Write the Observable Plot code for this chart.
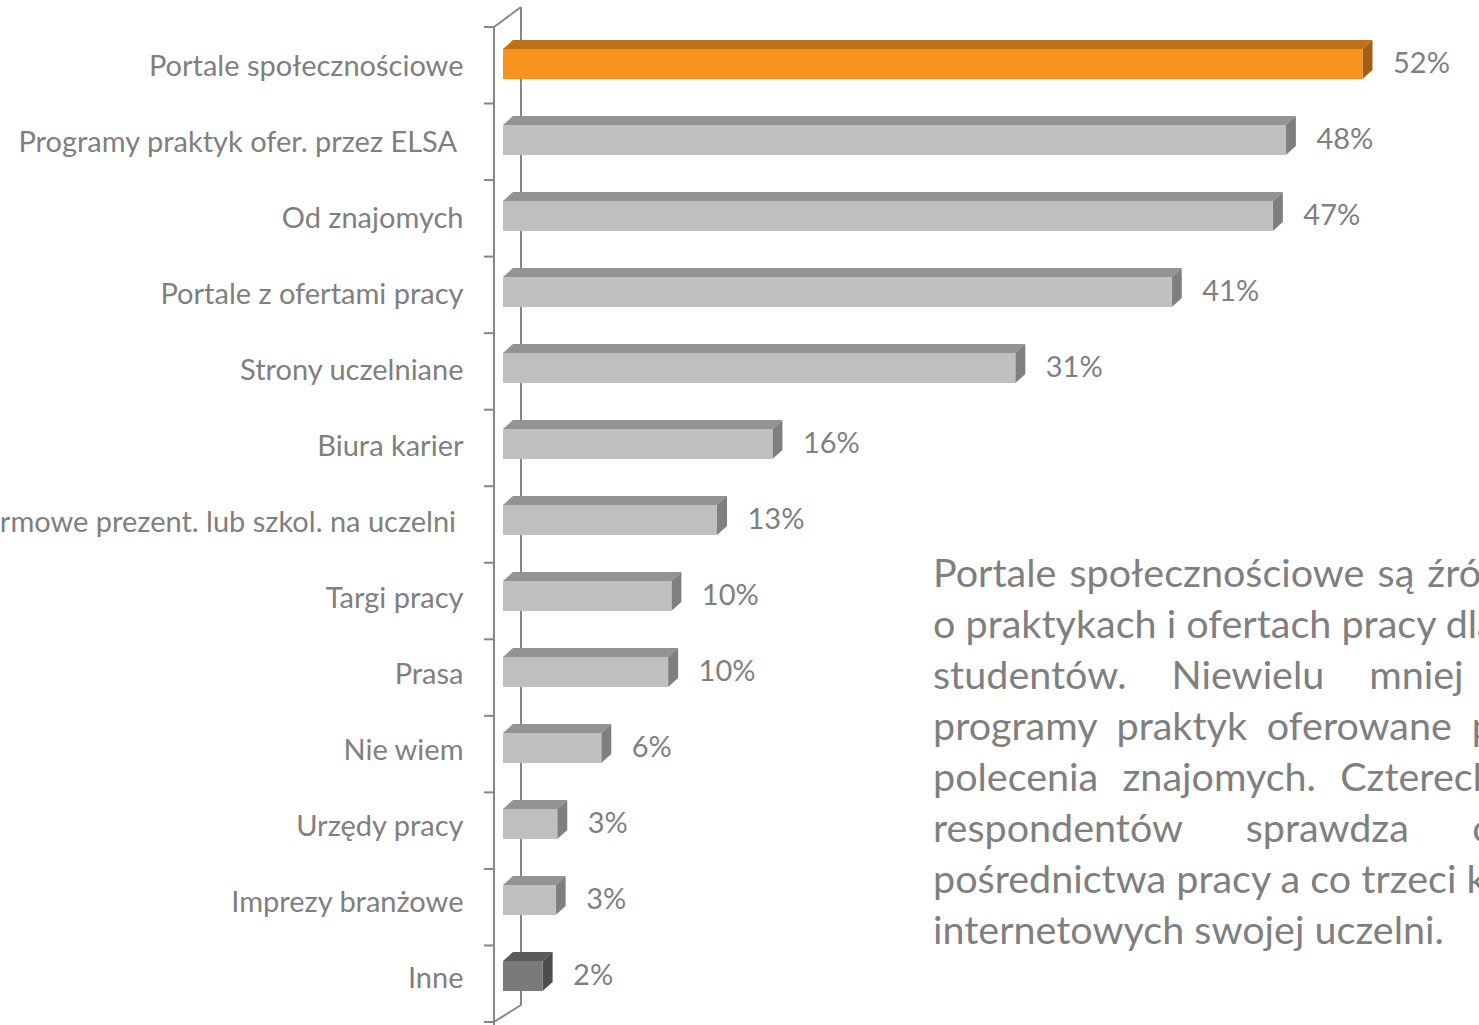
<!DOCTYPE html>
<html>
<head>
<meta charset="utf-8">
<script src="https://cdn.jsdelivr.net/npm/d3@7"></script>
<script src="https://cdn.jsdelivr.net/npm/@observablehq/plot@0.6"></script>
<style>
  html, body { margin: 0; padding: 0; background: #ffffff; overflow: hidden; width: 1479px; height: 1025px; }
  #chart { position: absolute; left: 0; top: 0; }
  #chart svg text { white-space: pre; }
  #note { position: absolute; left: 933px; top: 546px; font-family: Lato, sans-serif; font-size: 39.5px;
          line-height: 51px; color: #7f7f7f; }
  #note div { white-space: nowrap; text-align: left; }
</style>
</head>
<body>
<div id="chart"></div>
<div id="note"></div>
<script>
// ---- data ----
const categories = [
  "Portale społecznościowe",
  "Programy praktyk ofer. przez ELSA ",
  "Od znajomych",
  "Portale z ofertami pracy",
  "Strony uczelniane",
  "Biura karier",
  "Firmowe prezent. lub szkol. na uczelni ",
  "Targi pracy",
  "Prasa",
  "Nie wiem",
  "Urzędy pracy",
  "Imprezy branżowe",
  "Inne"
];
const values = [52.3, 47.6, 46.8, 40.6, 31.0, 16.1, 12.7, 9.9, 9.7, 5.6, 2.9, 2.8, 2.0];
const noteLines = [
  "Portale społecznościowe są źródłem informacji",
  "o praktykach i ofertach pracy dla ponad połowy",
  "studentów. Niewielu mniej wskazuje na",
  "programy praktyk oferowane przez ELSA czy",
  "polecenia znajomych. Czterech na dziesięciu",
  "respondentów sprawdza oferty portali",
  "pośrednictwa pracy a co trzeci korzysta ze stron",
  "internetowych swojej uczelni."
];

// ---- styles ----
const TEXT = "#7f7f7f";
const AXIS = "#868686";
const FONT = "Lato, sans-serif";
const NOTE_FONT = "39.5px Lato";
const NOTE_WIDTH = 820;        // width of the justified text box
const pal = {
  top:   {front: "#f7931e", lid: "#bd7116", side: "#a55f12"},
  other: {front: "#bfbfbf", lid: "#939393", side: "#7f7f7f"},
  last:  {front: "#7a7a7a", lid: "#5b5b5b", side: "#4d4d4d"}
};
const DX = 10, DY = 9;         // bar depth
const INSET_TOP = 18, INSET_BOTTOM = 28.5;
const BASE_SHIFT = 7;          // perspective: front face starts before zero plane

const data = categories.map((c, i) => ({category: c, value: values[i]}));
const maxV = d3.max(values);
const kind = (d, i) => d.value === maxV ? "top" : (i === data.length - 1 ? "last" : "other");

function render3d(index, scales, vals, dims) {
  const g = d3.create("svg:g");
  const n = categories.length;
  const top = dims.marginTop, bottom = dims.height - dims.marginBottom;
  const step = (bottom - top) / n;
  const x0 = scales.x(0);
  const fx = x0 - 16, bx = x0 + 11, slantY = 20;
  const line = d => g.append("path").attr("d", d).attr("stroke", AXIS)
    .attr("stroke-width", 2).attr("fill", "none");
  line(`M${bx},${top - slantY}L${bx},${bottom - 17}`);       // back wall
  line(`M${fx},${top}L${bx},${top - slantY}`);              // top slant
  line(`M${fx},${bottom}L${bx},${bottom - 17}`);            // bottom slant
  line(`M${fx},${top}L${fx},${dims.height}`);               // front axis
  for (let k = 0; k <= n; ++k) {
    const y = top + k * step;
    line(`M${fx - 10},${y}L${fx},${y}`);
  }
  for (const i of index) {
    const d = data[i];
    const c = pal[kind(d, i)];
    const xa = x0 - BASE_SHIFT;
    const xb = scales.x(d.value);
    const yb = scales.y(d.category);
    const y1 = yb + INSET_TOP, y2 = yb + step - INSET_BOTTOM;
    g.append("path").attr("d", `M${xa},${y1}L${xb},${y1}L${xb + DX},${y1 - DY}L${xa + DX},${y1 - DY}Z`)
      .attr("fill", c.lid);
    g.append("path").attr("d", `M${xb},${y1}L${xb + DX},${y1 - DY}L${xb + DX},${y2 - DY}L${xb},${y2}Z`)
      .attr("fill", c.side);
    g.append("rect").attr("x", xa).attr("y", y1).attr("width", xb - xa).attr("height", y2 - y1)
      .attr("fill", c.front);
  }
  return g.node();
}

const chart = Plot.plot({
  width: 1479,
  height: 1025,
  marginLeft: 510,
  marginRight: 23.6,
  marginTop: 27,
  marginBottom: 3,
  style: {fontFamily: FONT, fontSize: "29px", color: TEXT, background: "#ffffff", overflow: "hidden"},
  x: {domain: [0, 58], axis: null},
  y: {domain: categories, padding: 0, label: null},
  marks: [
    Plot.axisY({tickSize: 0, tickPadding: 47, fontSize: 29, fill: TEXT, dy: -3}),
    Plot.barX(data, {x: "value", y: "category", render: render3d}),
    Plot.text(data, {
      x: "value", y: "category",
      text: d => `${Math.round(d.value)}%`,
      textAnchor: "start", dx: 30, dy: -6,
      fontSize: 29, fill: TEXT
    })
  ]
});
document.getElementById("chart").appendChild(chart);

// annotation: explicit lines, justified (word-spacing) to the box width; last line left-aligned
const ctx = document.createElement("canvas").getContext("2d");
ctx.font = NOTE_FONT;
const note = d3.select("#note");
noteLines.forEach((t, i) => {
  const row = note.append("div").text(t);
  if (i < noteLines.length - 1) {
    const gaps = t.split(" ").length - 1;
    const extra = (NOTE_WIDTH - ctx.measureText(t).width) / gaps;
    row.style("word-spacing", Math.max(0, extra) + "px");
  }
});
</script>
</body>
</html>
